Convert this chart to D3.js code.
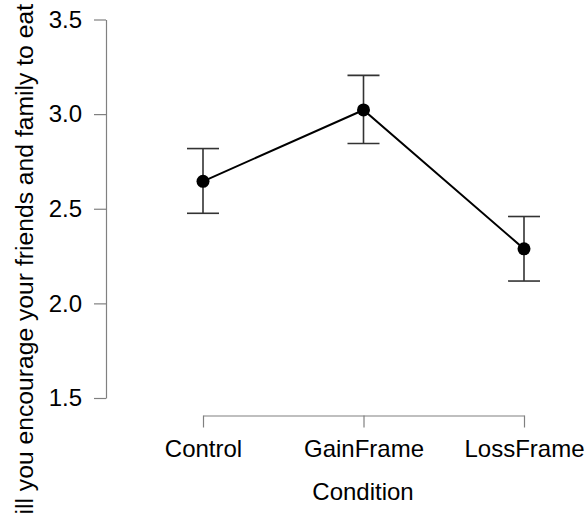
<!DOCTYPE html>
<html>
<head>
<meta charset="utf-8">
<script src="https://cdn.jsdelivr.net/npm/d3@7"></script>
<style>
  html, body { margin: 0; padding: 0; background: #fff; }
  svg { display: block; }
  text { font-family: "Liberation Sans", Arial, Helvetica, sans-serif; }
</style>
</head>
<body>
<svg id="chart" width="587" height="513"></svg>
<script>
const categories = ["Control", "GainFrame", "LossFrame"];
const means = [2.645, 3.022, 2.288];
const lower = [2.476, 2.845, 2.118];
const upper = [2.818, 3.205, 2.459];
const yTicks = [1.5, 2.0, 2.5, 3.0, 3.5];
const xTitle = "Condition";
const yTitle = "Will you encourage your friends and family to eat";

const svg = d3.select("#chart");
const fontSize = 24;

const x = d3.scalePoint().domain(categories).range([203, 524]);
const y = d3.scaleLinear().domain([1.5, 3.5]).range([398, 19.5]);

// Y axis
const yAxis = svg.append("g")
  .attr("transform", "translate(106,0)")
  .call(d3.axisLeft(y).tickValues(yTicks).tickFormat(d3.format(".1f"))
    .tickSize(12).tickSizeOuter(0).tickPadding(12));
yAxis.selectAll("path, line").attr("stroke", "#808080").attr("stroke-width", 1.2);
yAxis.selectAll("text").attr("font-size", fontSize).attr("fill", "#000")
  .style("font-family", '"Liberation Sans", Arial, sans-serif');

// X axis
const xAxis = svg.append("g")
  .attr("transform", "translate(0,415.5)")
  .call(d3.axisBottom(x).tickSize(12).tickSizeOuter(0).tickPadding(12));
xAxis.selectAll("path, line").attr("stroke", "#808080").attr("stroke-width", 1.2);
xAxis.selectAll("text").attr("font-size", fontSize).attr("fill", "#000")
  .style("font-family", '"Liberation Sans", Arial, sans-serif');

// Axis titles
svg.append("text")
  .attr("x", 363).attr("y", 499.5)
  .attr("text-anchor", "middle")
  .attr("font-size", fontSize)
  .text(xTitle);

svg.append("text")
  .attr("transform", "translate(33,4) rotate(-90)")
  .attr("text-anchor", "end")
  .attr("font-size", 24.7)
  .text(yTitle);

const data = categories.map((c, i) => ({ c, m: means[i], lo: lower[i], hi: upper[i] }));

// Error bars
const eb = svg.append("g").attr("stroke", "#333").attr("stroke-width", 1.6);
eb.selectAll("line.v").data(data).join("line").attr("class", "v")
  .attr("x1", d => x(d.c)).attr("x2", d => x(d.c))
  .attr("y1", d => y(d.lo)).attr("y2", d => y(d.hi));
eb.selectAll("line.top").data(data).join("line").attr("class", "top")
  .attr("x1", d => x(d.c) - 16).attr("x2", d => x(d.c) + 16)
  .attr("y1", d => y(d.hi)).attr("y2", d => y(d.hi));
eb.selectAll("line.bot").data(data).join("line").attr("class", "bot")
  .attr("x1", d => x(d.c) - 16).attr("x2", d => x(d.c) + 16)
  .attr("y1", d => y(d.lo)).attr("y2", d => y(d.lo));

// Line
svg.append("path")
  .datum(data)
  .attr("fill", "none")
  .attr("stroke", "#000")
  .attr("stroke-width", 2)
  .attr("d", d3.line().x(d => x(d.c)).y(d => y(d.m)));

// Points
svg.selectAll("circle.pt").data(data).join("circle").attr("class", "pt")
  .attr("cx", d => x(d.c)).attr("cy", d => y(d.m))
  .attr("r", 6.5).attr("fill", "#000");
</script>
</body>
</html>
